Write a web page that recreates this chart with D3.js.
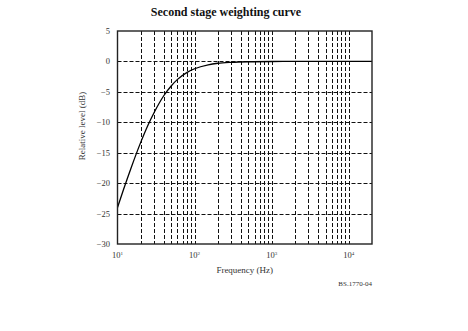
<!DOCTYPE html>
<html>
<head>
<meta charset="utf-8">
<script src="https://cdn.jsdelivr.net/npm/d3@7"></script>
<style>
  html, body { margin: 0; padding: 0; background: #fff; }
  svg { display: block; }
  text { font-family: "Liberation Serif", "DejaVu Serif", serif; }
</style>
</head>
<body>
<svg id="chart" width="468" height="331"></svg>
<script>
// ---- data ----
const freqHz = [10, 12, 15, 20, 25, 30, 40, 50, 60, 80, 100, 150, 200, 300, 500, 1000, 2000, 5000, 10000, 20000];
const levelDb = [-24.0, -21.0, -17.5, -13.3, -10.4, -8.35, -5.6, -4.0, -2.95, -1.8, -1.2, -0.55, -0.3, -0.14, -0.05, -0.01, 0, 0, 0, 0];
const yTicks = [5, 0, -5, -10, -15, -20, -25, -30];
const yGrid = [0, -5, -10, -15, -20, -25];
const xTickExp = [1, 2, 3, 4];
const xGridMult = [2, 3, 4, 5, 6, 7, 8, 9, 10];
const xGridDecades = [10, 100, 1000];
const titleText = "Second stage weighting curve";
const xTitle = "Frequency (Hz)";
const yTitle = "Relative level (dB)";
const noteText = "BS.1770-04";

// ---- layout ----
const L = 117.5, R = 372, T = 31, B = 244;
const svg = d3.select("#chart");
const x = d3.scaleLog().domain([10, 20000]).range([L, R]);
const y = d3.scaleLinear().domain([-30, 5]).range([B, T]);

const gridColor = "#111";
const textColor = "#333";

// vertical grid
const vLines = [];
xGridDecades.forEach(d => xGridMult.forEach(m => vLines.push(d * m)));
svg.append("g").selectAll("line").data(vLines).join("line")
  .attr("x1", d => Math.round(x(d)) + 0.5).attr("x2", d => Math.round(x(d)) + 0.5)
  .attr("y1", T).attr("y2", B)
  .attr("stroke", gridColor).attr("stroke-width", 1)
  .attr("stroke-dasharray", "4,2");

// horizontal grid
svg.append("g").selectAll("line").data(yGrid).join("line")
  .attr("x1", L).attr("x2", R)
  .attr("y1", d => Math.round(y(d)) + 0.5).attr("y2", d => Math.round(y(d)) + 0.5)
  .attr("stroke", gridColor).attr("stroke-width", 1)
  .attr("stroke-dasharray", "4,2");

// curve
const line = d3.line().x((d, i) => x(freqHz[i])).y(d => y(d)).curve(d3.curveMonotoneX);
svg.append("path").datum(levelDb)
  .attr("d", line)
  .attr("fill", "none").attr("stroke", "#000").attr("stroke-width", 1.3);

// frame
svg.append("rect").attr("x", L).attr("y", T).attr("width", R - L).attr("height", B - T)
  .attr("fill", "none").attr("stroke", "#222").attr("stroke-width", 1.4);

// y tick labels
svg.append("g").selectAll("text").data(yTicks).join("text")
  .attr("x", 110).attr("y", d => y(d) + 3)
  .attr("text-anchor", "end")
  .attr("font-size", 8.5).attr("fill", textColor)
  .text(d => d < 0 ? "\u2212" + Math.abs(d) : String(d));

// x tick labels
const xt = svg.append("g").selectAll("text").data(xTickExp).join("text")
  .attr("x", d => x(Math.pow(10, d)))
  .attr("y", 258)
  .attr("text-anchor", "middle")
  .attr("font-size", 8.5).attr("fill", textColor);
xt.append("tspan").text("10");
xt.append("tspan").attr("font-size", 5).attr("dy", -3.5).text(d => d);

// titles
svg.append("text").attr("x", 226).attr("y", 16)
  .attr("text-anchor", "middle").attr("font-size", 12).attr("font-weight", "bold")
  .attr("fill", "#111").text(titleText);

svg.append("text").attr("x", (L + R) / 2).attr("y", 273)
  .attr("text-anchor", "middle").attr("font-size", 9).attr("fill", textColor)
  .text(xTitle);

svg.append("text").attr("transform", "translate(85,126) rotate(-90)")
  .attr("text-anchor", "middle").attr("font-size", 9).attr("fill", textColor)
  .text(yTitle);

svg.append("text").attr("x", 372).attr("y", 286)
  .attr("text-anchor", "end").attr("font-size", 7).attr("fill", textColor)
  .text(noteText);
</script>
</body>
</html>
